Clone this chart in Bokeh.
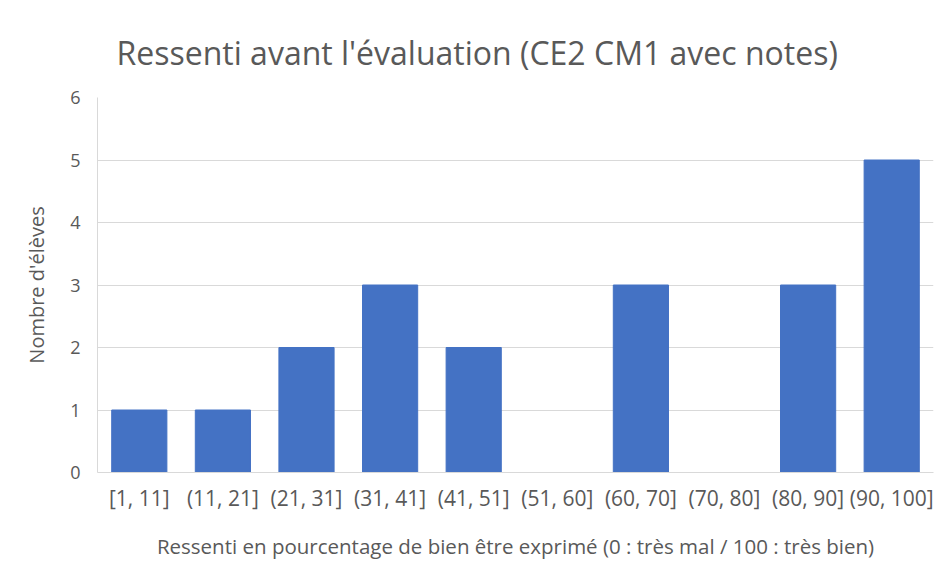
from bokeh.plotting import figure
from bokeh.models import FactorRange, Range1d, FixedTicker
from bokeh.embed import file_html
from bokeh.resources import INLINE

categories = ["[1, 11]", "(11, 21]", "(21, 31]", "(31, 41]", "(41, 51]",
              "(51, 60]", "(60, 70]", "(70, 80]", "(80, 90]", "(90, 100]"]
counts = [1, 1, 2, 3, 2, 0, 3, 0, 3, 5]
y_ticks = [0, 1, 2, 3, 4, 5, 6]

TEXT = "#595959"
GRID = "#d9d9d9"
FONT = "Open Sans"

p = figure(width=937, height=569, output_backend="svg", toolbar_location=None,
           x_range=FactorRange(*categories, range_padding=0),
           y_range=Range1d(0, 6),
           title="Ressenti avant l'évaluation (CE2 CM1 avec notes)")

p.min_border_left = 97
p.min_border_right = 4
p.min_border_top = 97
p.min_border_bottom = 97
p.outline_line_color = None
p.background_fill_color = "white"
p.border_fill_color = "white"

p.vbar(x=categories, top=counts, width=0.66, color="#4472C4")

p.title.text_font = FONT
p.title.text_font_size = "32px"
p.title.text_font_style = "normal"
p.title.text_color = TEXT
p.title.align = "left"
p.title.offset = 19
p.title.standoff = 47

p.yaxis.ticker = FixedTicker(ticks=y_ticks)
p.yaxis.axis_label = "Nombre d'élèves"
p.xaxis.axis_label = "Ressenti en pourcentage de bien être exprimé (0 : très mal / 100 : très bien)"

for ax in (p.xaxis[0], p.yaxis[0]):
    ax.axis_line_color = GRID
    ax.major_tick_line_color = None
    ax.minor_tick_line_color = None
    ax.major_tick_out = 0
    ax.major_tick_in = 0
    ax.minor_tick_out = 0
    ax.minor_tick_in = 0
    ax.major_label_text_font = FONT
    ax.major_label_text_color = TEXT
    ax.axis_label_text_font = FONT
    ax.axis_label_text_color = TEXT
    ax.axis_label_text_font_style = "normal"

p.xaxis.major_label_text_font_size = "21px"
p.yaxis.major_label_text_font_size = "18px"
p.xaxis.axis_label_text_font_size = "20.5px"
p.yaxis.axis_label_text_font_size = "20px"
p.xaxis.major_label_standoff = 11
p.yaxis.major_label_standoff = 17
p.xaxis.axis_label_standoff = 17
p.yaxis.axis_label_standoff = 17

p.xgrid.grid_line_color = None
p.ygrid.grid_line_color = GRID
p.ygrid.grid_line_width = 1

open("out.html", "w").write(file_html(p, INLINE))
